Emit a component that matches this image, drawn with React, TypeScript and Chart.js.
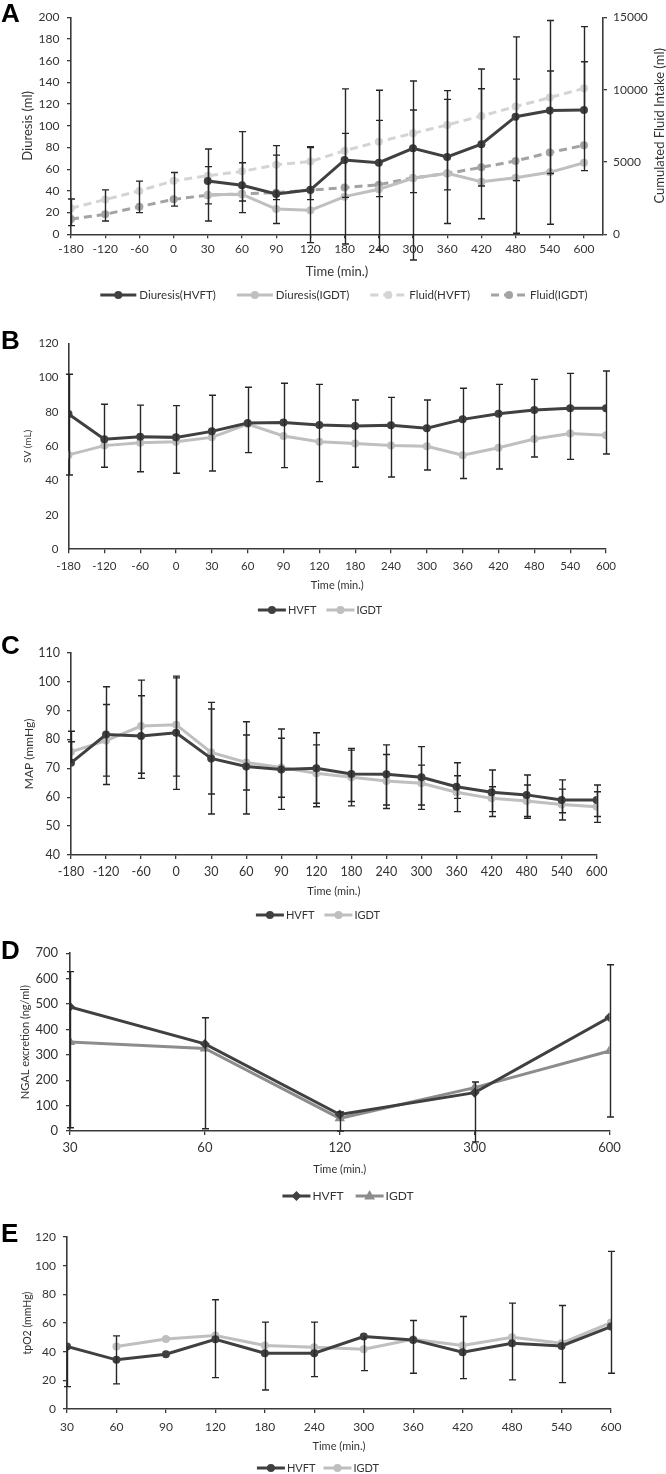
import React, { useEffect, useRef } from 'react';
import { Chart, registerables } from 'chart.js';

Chart.register(...registerables);

const FONT = 'Lato, "Liberation Sans", Arial, sans-serif';
const TEXT = '#333333';
const AXIS = '#3a3a3a';
const ERR = '#262626';
const DARK = '#404040';
const LIGHT = '#bfbfbf';
const FLUID_H = '#d4d4d4';
const FLUID_I = '#a3a3a3';
const MID = '#8c8c8c';

// ---------- Panel A ----------
const timesA = ['-180', '-120', '-60', '0', '30', '60', '90', '120', '180', '240', '300', '360', '420', '480', '540', '600'];
const diuresisHVFT = [null, null, null, null, 49.2, 45.2, 37.2, 41.0, 68.5, 66.0, 79.3, 71.3, 83.0, 108.4, 114.0, 114.6];
const diuresisIGDT = [null, null, null, null, 36.5, 36.8, 23.3, 22.1, 34.7, 41.5, 51.6, 56.2, 48.5, 52.2, 57.1, 66.0];
const fluidHVFT = [1800, 2400, 3000, 3700, 4050, 4350, 4800, 5030, 5780, 6400, 6980, 7560, 8180, 8830, 9450, 10090];
const fluidIGDT = [1060, 1380, 1910, 2420, 2700, 2800, 2880, 3050, 3230, 3430, 3900, 4200, 4630, 5070, 5650, 6150];
const errAOuterLo = [8, 12.3, 20, 26, 12.3, 20, 10, -7.7, -9, -14.5, -23.7, 10, 14.4, 0.9, 9.2, 58.7];
const errAOuterHi = [32.6, 40.9, 49, 57, 78.6, 94.6, 81.7, 80.8, 134, 132.7, 141.3, 132.4, 152.4, 182, 197, 191.4];
const errAInnerLo = [null, null, null, null, 28, 30.7, 32, 32, 34, 34.7, 38.4, 40.9, 44.5, 49.5, 56, null];
const errAInnerHi = [null, null, null, null, 62.4, 66, 73, 80, 93, 105, 114.6, 124.4, 134.2, 143, 150.5, 159];

// ---------- Panel B ----------
const timesB = timesA;
const svHVFT = [78.8, 64.1, 65.6, 65.2, 68.7, 73.6, 73.8, 72.4, 71.8, 72.2, 70.5, 75.7, 79.0, 81.2, 82.1, 82.1];
const svIGDT = [55.0, 60.4, 62.1, 62.7, 65.2, 73.0, 66.0, 62.7, 61.7, 60.4, 60.0, 54.8, 59.2, 64.3, 67.4, 66.4];
const errBLo = [43.3, 47.8, 45.2, 44.3, 45.6, 56.3, 47.6, 39.4, 47.8, 42.1, 46.2, 41.2, 46.8, 53.8, 52.4, 55.5];
const errBHi = [102, 84.5, 84, 83.7, 89.7, 94.4, 96.7, 96.1, 87, 88.5, 87, 93.8, 96.1, 99, 102.5, 103.9];

// ---------- Panel C ----------
const timesC = timesA;
const mapHVFT = [71.9, 81.7, 81.2, 82.3, 73.4, 70.6, 69.6, 70.0, 68.0, 67.9, 66.9, 63.6, 61.7, 60.8, 59.0, 59.0];
const mapIGDT = [75.7, 79.6, 84.6, 85.1, 75.5, 72.0, 70.3, 68.3, 66.9, 65.6, 64.8, 61.7, 59.6, 58.7, 57.5, 56.7];
const errCOuterHi = [82.8, 98.2, 100.5, 101.9, 92.8, 86.1, 83.6, 82.3, 76.9, 78.1, 77.5, 71.9, 69.4, 67.7, 66, 64.2];
const errCInnerHi = [79.2, 92.1, 95.1, 101.3, 90.5, 81.5, 80.4, 78.1, 76.3, 74.8, 71.1, 67.4, 63.6, 64.2, 62.8, 61.9];
const errCInnerLo = [null, 67.3, 68.3, 67.3, 61.1, 62.5, 60, 57.9, 58.5, 57.3, 57.3, 59.6, 55, 53.3, 54.6, 53.3];
const errCOuterLo = [null, 64.4, 66.5, 62.7, 54.2, 54.2, 55.8, 56.7, 57, 56.1, 55.8, 55, 53.3, 52.7, 52.1, 51.3];

// ---------- Panel D ----------
const timesD = ['30', '60', '120', '300', '600'];
const ngalHVFT = [489, 343, 65, 151, 448];
const ngalIGDT = [351, 325, 50, 171, 315];
const errDLo = [13, 9, 0, -43, 55];
const errDHi = [628, 446, 75, 193, 655];

// ---------- Panel E ----------
const timesE = ['30', '60', '90', '120', '180', '240', '300', '360', '420', '480', '540', '600'];
const tpo2HVFT = [43.6, 34.3, 38.2, 48.7, 38.9, 38.9, 50.6, 48.2, 39.6, 45.9, 44.0, 57.5];
const tpo2IGDT = [null, 43.6, 48.9, 51.3, 44.3, 43.1, 41.7, 48.7, 44.3, 50.1, 45.9, 60.3];
const errELo = [15.6, 17.5, null, 21.9, 13.3, 22.6, 26.8, 24.9, 21.2, 20.3, 18.4, 24.9];
const errEHi = [null, 51, null, 76.2, 60.6, 60.6, null, 61.7, 64.5, 73.9, 72.2, 110];

// ---------- helpers ----------
const pts = (arr: (number | null)[]) => arr.map((v, i) => ({ x: i, y: v }));

function series(label: string, data: (number | null)[], color: string, extra: any = {}) {
  return {
    label,
    data: pts(data),
    borderColor: color,
    backgroundColor: color,
    pointBackgroundColor: color,
    pointBorderColor: color,
    pointBorderWidth: 0,
    pointRadius: 4,
    pointStyle: 'circle',
    borderWidth: 3,
    tension: 0,
    fill: false,
    spanGaps: false,
    ...extra,
  };
}

function drawMarker(ctx: CanvasRenderingContext2D, style: string, r: number, x: number, y: number, color: string) {
  ctx.save();
  ctx.fillStyle = color;
  ctx.beginPath();
  if (style === 'rectRot') {
    ctx.moveTo(x, y - r);
    ctx.lineTo(x + r, y);
    ctx.lineTo(x, y + r);
    ctx.lineTo(x - r, y);
    ctx.closePath();
  } else if (style === 'triangle') {
    ctx.moveTo(x, y - r);
    ctx.lineTo(x + r * 0.9, y + r * 0.6);
    ctx.lineTo(x - r * 0.9, y + r * 0.6);
    ctx.closePath();
  } else {
    ctx.arc(x, y, r, 0, Math.PI * 2);
  }
  ctx.fill();
  ctx.restore();
}

const errPlugin = {
  id: 'errBars',
  afterDatasetsDraw(chart: any, _a: any, opts: any) {
    const sets = opts && opts.sets;
    if (!sets) return;
    const ctx = chart.ctx as CanvasRenderingContext2D;
    const xs = chart.scales.x;
    ctx.save();
    ctx.strokeStyle = ERR;
    ctx.lineWidth = 1.4;
    const cap = 3.5;
    for (const s of sets) {
      const ys = chart.scales[s.axis || 'y'];
      s.hi.forEach((h: number | null, i: number) => {
        const l = s.lo[i];
        if (h == null && l == null) return;
        const b = s.base ? s.base[i] : null;
        const top = h ?? b;
        const bot = l ?? b;
        if (top == null || bot == null) return;
        const x = Math.round(xs.getPixelForValue(i)) + 0.5;
        const y1 = ys.getPixelForValue(top);
        const y2 = ys.getPixelForValue(bot);
        ctx.beginPath();
        ctx.moveTo(x, y1);
        ctx.lineTo(x, y2);
        if (h != null) {
          ctx.moveTo(x - cap, y1);
          ctx.lineTo(x + cap, y1);
        }
        if (l != null) {
          ctx.moveTo(x - cap, y2);
          ctx.lineTo(x + cap, y2);
        }
        ctx.stroke();
      });
    }
    ctx.restore();
  },
};

const legendPlugin = {
  id: 'xlLegend',
  afterDraw(chart: any, _a: any, opts: any) {
    if (!opts || opts.y == null) return;
    const ctx = chart.ctx as CanvasRenderingContext2D;
    ctx.save();
    ctx.font = `${opts.size}px ${FONT}`;
    const dss = chart.data.datasets;
    const widths = dss.map((ds: any) => opts.line + opts.textGap + ctx.measureText(ds.label).width);
    const total = widths.reduce((a: number, w: number) => a + w, 0) + opts.gap * (dss.length - 1);
    let x = opts.cx - total / 2;
    const y = opts.y;
    dss.forEach((ds: any, i: number) => {
      ctx.strokeStyle = ds.borderColor;
      ctx.lineWidth = ds.borderWidth;
      ctx.setLineDash(ds.borderDash || []);
      ctx.beginPath();
      ctx.moveTo(x, y);
      ctx.lineTo(x + opts.line, y);
      ctx.stroke();
      ctx.setLineDash([]);
      drawMarker(ctx, ds.pointStyle, ds.pointRadius, x + opts.line / 2, y, ds.pointBackgroundColor);
      ctx.fillStyle = TEXT;
      ctx.textAlign = 'left';
      ctx.textBaseline = 'middle';
      ctx.fillText(ds.label, x + opts.line + opts.textGap, y);
      x += widths[i] + opts.gap;
    });
    ctx.restore();
  },
};

const textPlugin = {
  id: 'xlText',
  afterDraw(chart: any, _a: any, opts: any) {
    if (!opts || !opts.items) return;
    const ctx = chart.ctx as CanvasRenderingContext2D;
    for (const t of opts.items) {
      ctx.save();
      ctx.translate(t.x, t.y);
      ctx.rotate(t.rot || 0);
      ctx.font = `${t.size}px ${FONT}`;
      ctx.fillStyle = TEXT;
      ctx.textAlign = 'center';
      ctx.textBaseline = 'middle';
      ctx.fillText(t.text, 0, 0);
      ctx.restore();
    }
  },
};

type Area = { left: number; right: number; top: number; bottom: number };

function makeConfig(p: any) {
  const area: Area = p.area;
  const ct: number = p.ct;
  const ch: number = p.ch;
  const scales: any = {
    x: {
      type: 'linear',
      position: 'bottom',
      min: 0,
      max: p.xMax,
      afterBuildTicks: (s: any) => {
        s.ticks = p.labels.map((_: string, i: number) => ({ value: i }));
      },
      afterFit: (s: any) => {
        s.height = p.xH;
      },
      ticks: {
        autoSkip: false,
        maxRotation: 0,
        minRotation: 0,
        padding: p.xPad,
        color: TEXT,
        font: { family: FONT, size: p.tickSize },
        callback: (v: number) => (p.labels[v] !== undefined ? p.labels[v] : ''),
      },
      grid: { display: true, drawOnChartArea: false, drawTicks: true, tickLength: 4, color: AXIS, lineWidth: 1.3 },
      border: { display: true, color: AXIS, width: 1.6 },
      title: {
        display: true,
        text: 'Time (min.)',
        color: TEXT,
        font: { family: FONT, size: p.xTitleSize },
        padding: { top: 0, bottom: 0 },
      },
    },
    y: {
      type: 'linear',
      position: 'left',
      min: p.yMin,
      max: p.yMax,
      afterFit: (s: any) => {
        s.width = area.left;
      },
      ticks: {
        stepSize: p.yStep,
        padding: p.yPad,
        color: TEXT,
        font: { family: FONT, size: p.yTickSize || p.tickSize },
      },
      grid: {
        display: true,
        drawOnChartArea: false,
        drawTicks: p.yTicks,
        tickLength: p.yTicks ? 4 : 0,
        color: AXIS,
        lineWidth: 1.3,
      },
      border: { display: true, color: AXIS, width: 1.6 },
      title: {
        display: true,
        text: p.yTitle,
        color: TEXT,
        font: { family: FONT, size: p.yTitleSize },
        padding: { top: p.yTitlePad, bottom: 0 },
      },
    },
  };
  if (p.y1) {
    scales.y1 = {
      type: 'linear',
      position: 'right',
      min: p.y1.min,
      max: p.y1.max,
      afterFit: (s: any) => {
        s.width = 666 - area.right;
      },
      ticks: {
        stepSize: p.y1.step,
        padding: 6,
        color: TEXT,
        font: { family: FONT, size: p.tickSize },
        callback: (v: number) => String(v),
      },
      grid: { display: true, drawOnChartArea: false, drawTicks: true, tickLength: 4, color: AXIS, lineWidth: 1.3 },
      border: { display: true, color: AXIS, width: 1.6 },
      title: { display: false },
    };
  }
  return {
    type: 'line',
    data: { datasets: p.datasets },
    plugins: [errPlugin, legendPlugin, textPlugin],
    options: {
      responsive: false,
      animation: false,
      devicePixelRatio: 1,
      layout: {
        padding: {
          top: area.top - ct,
          bottom: ct + ch - area.bottom - p.xH,
          left: 0,
          right: p.y1 ? 0 : 666 - area.right,
        },
      },
      scales,
      plugins: {
        legend: { display: false },
        tooltip: { enabled: false },
        title: { display: false },
        errBars: { sets: p.errSets },
        xlLegend: { ...p.legend, y: p.legend.y - ct },
        xlText: { items: (p.texts || []).map((t: any) => ({ ...t, y: t.y - ct })) },
      },
    },
  };
}

const panels: any[] = [
  {
    key: 'A',
    ct: 0,
    ch: 315,
    area: { left: 71, right: 603, top: 17.3, bottom: 234.3 },
    labels: timesA,
    xMax: 15.556,
    xH: 45.5,
    xPad: 3.5,
    tickSize: 12,
    xTitleSize: 13,
    yMin: 0,
    yMax: 200,
    yStep: 20,
    yPad: 7.5,
    yTicks: true,
    yTitle: 'Diuresis (ml)',
    yTitleSize: 13,
    yTitlePad: 20,
    y1: { min: 0, max: 15000, step: 5000 },
    texts: [{ text: 'Cumulated Fluid Intake (ml)', x: 660, y: 125.8, rot: -Math.PI / 2, size: 13 }],
    datasets: [
      series('Diuresis(HVFT)', diuresisHVFT, DARK),
      series('Diuresis(IGDT)', diuresisIGDT, LIGHT),
      series('Fluid(HVFT)', fluidHVFT, FLUID_H, { yAxisID: 'y1', borderDash: [8, 5] }),
      series('Fluid(IGDT)', fluidIGDT, FLUID_I, { yAxisID: 'y1', borderDash: [8, 5] }),
    ],
    errSets: [
      { lo: errAOuterLo, hi: errAOuterHi },
      { lo: errAInnerLo, hi: errAInnerHi, base: diuresisHVFT },
    ],
    legend: { y: 295, cx: 344, line: 36, textGap: 3, gap: 21, size: 11.5 },
  },
  {
    key: 'B',
    ct: 315,
    ch: 310,
    area: { left: 68.5, right: 606, top: 343.3, bottom: 549.3 },
    labels: timesB,
    xMax: 15,
    xH: 42.3,
    xPad: 6.5,
    tickSize: 11.5,
    xTitleSize: 11,
    yMin: 0,
    yMax: 120,
    yStep: 20,
    yPad: 10,
    yTicks: false,
    yTitle: 'SV (mL)',
    yTitleSize: 10,
    yTitlePad: 22,
    datasets: [series('HVFT', svHVFT, DARK), series('IGDT', svIGDT, LIGHT)],
    errSets: [{ lo: errBLo, hi: errBHi }],
    legend: { y: 610, cx: 320, line: 28, textGap: 2, gap: 10, size: 11 },
  },
  {
    key: 'C',
    ct: 625,
    ch: 310,
    area: { left: 71, right: 596.7, top: 652.7, bottom: 855 },
    labels: timesC,
    xMax: 15,
    xH: 42.6,
    xPad: 5.5,
    tickSize: 12.5,
    xTitleSize: 11,
    yMin: 40,
    yMax: 110,
    yStep: 10,
    yPad: 7,
    yTicks: true,
    yTitle: 'MAP (mmHg)',
    yTitleSize: 12,
    yTitlePad: 21.8,
    datasets: [series('HVFT', mapHVFT, DARK), series('IGDT', mapIGDT, LIGHT)],
    errSets: [
      { lo: errCOuterLo, hi: errCOuterHi, base: mapHVFT },
      { lo: errCInnerLo, hi: errCInnerHi, base: mapHVFT },
    ],
    legend: { y: 915, cx: 318, line: 28, textGap: 2, gap: 10, size: 11 },
  },
  {
    key: 'D',
    ct: 935,
    ch: 277,
    area: { left: 70, right: 609.5, top: 953.3, bottom: 1131 },
    labels: timesD,
    xMax: 4,
    xH: 44.6,
    xPad: 5.2,
    tickSize: 13,
    xTitleSize: 11,
    yMin: 0,
    yMax: 700,
    yStep: 100,
    yPad: 8,
    yTicks: true,
    yTitle: 'NGAL excretion (ng/ml)',
    yTitleSize: 11,
    yTitlePad: 18.4,
    datasets: [
      series('HVFT', ngalHVFT, DARK, { pointStyle: 'rectRot', pointRadius: 5 }),
      series('IGDT', ngalIGDT, MID, { pointStyle: 'triangle', pointRadius: 6 }),
    ],
    errSets: [{ lo: errDLo, hi: errDHi }],
    legend: { y: 1196, cx: 348, line: 28, textGap: 2, gap: 12, size: 12 },
  },
  {
    key: 'E',
    ct: 1212,
    ch: 262,
    area: { left: 67, right: 611, top: 1237, bottom: 1409 },
    labels: timesE,
    xMax: 11,
    xH: 43.6,
    xPad: 6.8,
    tickSize: 12,
    xTitleSize: 11,
    yMin: 0,
    yMax: 120,
    yStep: 20,
    yPad: 7,
    yTicks: true,
    yTitle: 'tpO2 (mmHg)',
    yTitleSize: 10.5,
    yTitlePad: 21.7,
    datasets: [series('HVFT', tpo2HVFT, DARK), series('IGDT', tpo2IGDT, LIGHT)],
    errSets: [{ lo: errELo, hi: errEHi, base: tpo2HVFT }],
    legend: { y: 1468, cx: 318, line: 28, textGap: 2, gap: 8, size: 11 },
  },
];

const letters = [
  { t: 'A', top: 0 },
  { t: 'B', top: 326.6 },
  { t: 'C', top: 631.6 },
  { t: 'D', top: 936.6 },
  { t: 'E', top: 1219.6 },
];

function Panel({ def }: { def: any }) {
  const ref = useRef<HTMLCanvasElement>(null);
  useEffect(() => {
    const chart = new Chart(ref.current as HTMLCanvasElement, makeConfig(def) as any);
    return () => chart.destroy();
  }, []);
  return (
    <canvas
      ref={ref}
      width={666}
      height={def.ch}
      style={{ position: 'absolute', left: 0, top: def.ct, width: 666, height: def.ch, display: 'block' }}
    />
  );
}

export default function App() {
  return (
    <div style={{ position: 'absolute', left: 0, top: 0, width: 666, height: 1474, background: '#ffffff', overflow: 'hidden' }}>
      {panels.map((p) => (
        <Panel key={p.key} def={p} />
      ))}
      {letters.map((l) => (
        <div
          key={l.t}
          style={{
            position: 'absolute',
            left: 1,
            top: l.top,
            font: 'bold 26px "Liberation Sans", Arial, sans-serif',
            lineHeight: '26px',
            color: '#000',
          }}
        >
          {l.t}
        </div>
      ))}
    </div>
  );
}
